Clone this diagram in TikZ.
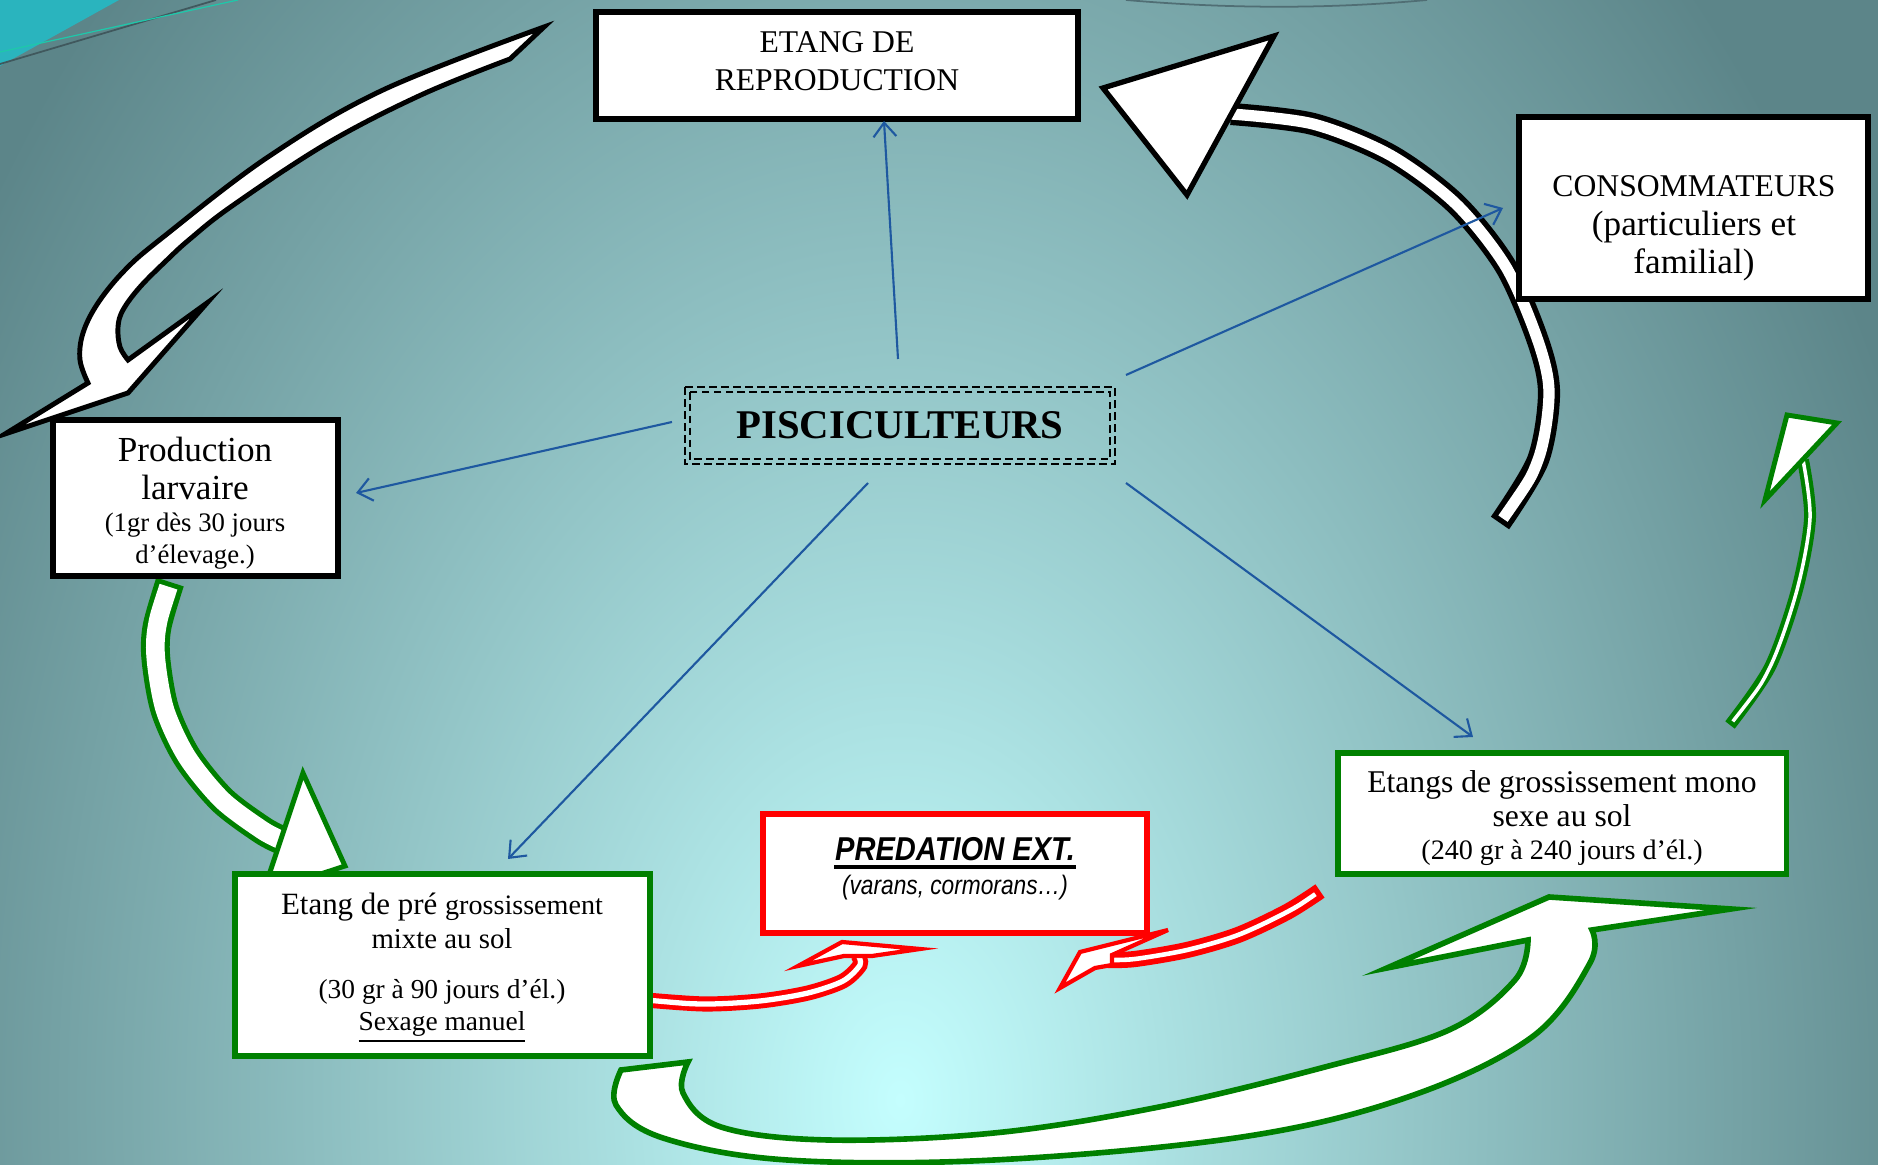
\documentclass[tikz,border=0pt]{standalone}
\usepackage{fontspec}
\setmainfont{Liberation Serif}
\newfontfamily\arialfont{Liberation Sans}
\usetikzlibrary{arrows.meta}
\definecolor{bgin}{RGB}{196,254,254}
\definecolor{bgout}{RGB}{92,133,137}
\definecolor{linkblue}{RGB}{30,88,160}
\definecolor{pgreen}{RGB}{0,128,0}
\definecolor{pred}{RGB}{255,0,0}
\definecolor{cornercyan}{RGB}{42,180,190}
\definecolor{arcgray}{RGB}{80,110,116}
\definecolor{cornerline}{RGB}{30,200,170}
\tikzset{
  panel/.style={fill=white, inner sep=0pt, line join=miter},
  blackpanel/.style={panel, draw=black, line width=1.7pt},
  greenpanel/.style={panel, draw=pgreen, line width=1.5pt},
  redpanel/.style={panel, draw=pred, line width=1.5pt},
  txt/.style={align=center, inner sep=0pt, text=black},
  link/.style={draw=linkblue, line width=0.6pt, -{Straight Barb[length=4pt,width=6.5pt]}},
  dashframe/.style={draw=black, line width=0.6pt, dash pattern=on 2.2pt off 1.2pt},
  blockout/.style={line width=1.4pt, fill=white, line join=miter},
}
\begin{document}
\begin{tikzpicture}[x=0.01cm, y=-0.01cm]
\useasboundingbox (0,0) rectangle (1878,1165);
\begin{scope}
  \clip (0,0) rectangle (1878,1165);
  \fill[bgout] (0,0) rectangle (1878,1165);
  \shade[inner color=bgin, outer color=bgout] (900,1100) ellipse [x radius=11cm, y radius=16cm];
  \fill[cornercyan] (0,0) -- (119,0) -- (0,66) -- cycle;
  \draw[arcgray!80!black, line width=0.5pt] (0,64) -- (216,0);
  \draw[cornerline, line width=0.35pt] (0,52) -- (238,0);
  \draw[arcgray, line width=0.5pt] (1126,0) .. controls (1230,9) and (1330,9) .. (1427,0);

  % arrow A (black, top left)
  \draw[blockout, draw=black] plot[smooth, tension=0.6] coordinates {(544,27) (383,90) (268,157) (162,238) (125,270) (98,303) (83,333) (80,360) (88,383)}
     -- (5,434) -- (128,393) -- (207,303) -- (128,360)
     -- plot[smooth, tension=0.6] coordinates {(128,360) (120,347) (118,327) (123,310) (140,287) (167,260) (190,239) (232,206) (326,144) (421,95) (510,59)} -- cycle;

  % arrow B (black, top right)
  \draw[black, line width=6.3pt] plot[smooth] coordinates {(1500,523) (1538,460) (1549,393) (1538,341) (1506,267) (1456,204) (1390,155) (1313,124) (1231,114)};
  \draw[white, line width=3.2pt, shorten <=1.5pt] plot[smooth] coordinates {(1500,523) (1538,460) (1549,393) (1538,341) (1506,267) (1456,204) (1390,155) (1313,124) (1231,114)};
  \draw[blockout, draw=black, line width=1.5pt] (1103,88) -- (1274,36) -- (1187,195) -- cycle;

  % arrow C (green, left)
  \draw[pgreen, line width=8.2pt] plot[smooth] coordinates {(170,582) (157,627) (156,660) (165,710) (187,757) (222,800) (262,830) (281,840)};
  \draw[white, line width=5.3pt, shorten <=1.4pt] plot[smooth] coordinates {(170,582) (157,627) (156,660) (165,710) (187,757) (222,800) (262,830) (281,840)};
  \draw[blockout, draw=pgreen] (303,773) -- (345,866) -- (263,893) -- cycle;

  % arrow D (green, right)
  \draw[pgreen, line width=3.4pt] plot[smooth] coordinates {(1730,725) (1770,667) (1797,590) (1810,518) (1803,460)};
  \draw[white, line width=1pt, shorten <=1.3pt] plot[smooth] coordinates {(1730,725) (1770,667) (1797,590) (1810,518) (1803,460)};
  \draw[blockout, draw=pgreen] (1787,415) -- (1837,423) -- (1765,500) -- cycle;

  % arrow E (green, bottom)
  \draw[blockout, draw=pgreen, line width=1.6pt] plot[smooth, tension=0.6] coordinates {(621,1070) (616,1105) (663,1138) (787,1160) (994,1160) (1242,1137) (1408,1097) (1532,1037) (1590,963) (1592,930)}
     -- (1731,909) -- (1549,897) -- (1387,968)
     -- plot[smooth, tension=0.6] coordinates {(1528,940) (1515,980) (1449,1030) (1325,1067) (1159,1107) (994,1133) (828,1140) (721,1127) (683,1093) (688,1062)} -- cycle;

  % arrow F (red, left)
  \draw[pred, line width=4.3pt] plot[smooth] coordinates {(646,1000) (705,1004) (760,1001) (808,993) (843,981) (860,965) (858,955)};
  \draw[white, line width=1.5pt, shorten <=1.4pt] plot[smooth] coordinates {(646,1000) (705,1004) (760,1001) (808,993) (843,981) (860,965) (858,955)};
  \draw[blockout, draw=pred, line width=1.2pt] (844,956) -- (798,966) -- (842,942) -- (920,949) -- (872,956) -- cycle;

  % arrow G (red, right)
  \draw[pred, line width=4.6pt] plot[smooth] coordinates {(1320,891) (1287,912) (1238,935) (1187,950) (1135,959) (1108,960)};
  \draw[white, line width=1.3pt, shorten <=1.6pt] plot[smooth] coordinates {(1320,891) (1287,912) (1238,935) (1187,950) (1135,959) (1108,960)};
  \draw[blockout, draw=pred, line width=1.2pt] (1112,955) -- (1168,930) -- (1080,952) -- (1060,988) -- (1095,968) -- (1112,965) -- cycle;
\end{scope}

% boxes
\node[blackpanel, minimum width=4.82cm, minimum height=1.07cm] (etang) at (837,65.5) {};
\node[blackpanel, minimum width=3.49cm, minimum height=1.82cm] (conso) at (1693.5,208) {};
\node[blackpanel, line width=1.5pt, minimum width=2.85cm, minimum height=1.56cm] (prod) at (195.5,498) {};
\node[inner sep=0pt, minimum width=4.28cm, minimum height=0.75cm] (pisc) at (900,425.5) {};
\draw[dashframe] (pisc.north west) rectangle (pisc.south east);
\draw[dashframe] ([shift={(0.045cm,-0.045cm)}]pisc.north west) rectangle ([shift={(-0.045cm,0.045cm)}]pisc.south east);
\node[greenpanel, minimum width=4.15cm, minimum height=1.82cm] (pre) at (442.5,965) {};
\node[redpanel, minimum width=3.84cm, minimum height=1.19cm] (pred) at (955,873.5) {};
\node[greenpanel, minimum width=4.48cm, minimum height=1.21cm] (mono) at (1562,813.5) {};

% blue links
\coordinate (l1s) at (898,359); \coordinate (l1e) at (884,121);
\coordinate (l2s) at (1126,375); \coordinate (l2e) at (1503,208);
\coordinate (l3s) at (672,422); \coordinate (l3e) at (356,493);
\coordinate (l4s) at (868,483); \coordinate (l4e) at (508,859);
\coordinate (l5s) at (1126,483); \coordinate (l5e) at (1473,737);
\draw[link] (l1s) -- (l1e);
\draw[link] (l2s) -- (l2e);
\draw[link] (l3s) -- (l3e);
\draw[link] (l4s) -- (l4e);
\draw[link] (l5s) -- (l5e);

% texts
\node[txt, font=\fontsize{9}{10.8}\selectfont] (etangT) at (837,61) {ETANG DE\\REPRODUCTION};
\node[txt, font=\fontsize{9}{10.6}\selectfont] (consoA) at (1694,186) {CONSOMMATEURS};
\node[txt, font=\fontsize{10}{10.6}\selectfont] (consoB) at (1694,246) {(particuliers et\\familial)};
\node[txt, font=\fontsize{10}{10.8}\selectfont] (prodA) at (195,468) {Production\\larvaire};
\node[txt, font=\fontsize{7.6}{9.1}\selectfont] (prodB) at (195,541) {(1gr dès 30 jours\\d’élevage.)};
\node[txt, font=\bfseries\fontsize{11.6}{13}\selectfont] (piscT) at (900,425) {PISCICULTEURS};
\node[txt, font=\fontsize{8.8}{9.7}\selectfont] (preA) at (442,921) {Etang de pré {\fontsize{8}{9.7}\selectfont grossissement}\\{\fontsize{8.2}{9.7}\selectfont mixte au sol}};
\node[txt, font=\fontsize{7.8}{9.1}\selectfont] (preB) at (442,1011) {(30 gr à 90 jours d’él.)\\\underline{Sexage manuel}};
\node[txt, font=\arialfont\bfseries\itshape\fontsize{9.4}{11}\selectfont] (predA) at (955,849) {\scalebox{0.88}[1]{PREDATION EXT.}};
\draw[line width=0.9pt] ([yshift=-1.6pt]predA.south west) -- ([yshift=-1.6pt]predA.south east);
\node[txt, font=\arialfont\itshape\fontsize{7.6}{9}\selectfont] (predB) at (955,888) {\scalebox{0.85}[1]{(varans, cormorans…)}};
\node[txt, font=\fontsize{9}{9.7}\selectfont] (monoA) at (1562,799) {Etangs de grossissement mono\\sexe au sol};
\node[txt, font=\fontsize{8}{9}\selectfont] (monoB) at (1562,853) {(240 gr à 240 jours d’él.)};
\end{tikzpicture}
\end{document}
